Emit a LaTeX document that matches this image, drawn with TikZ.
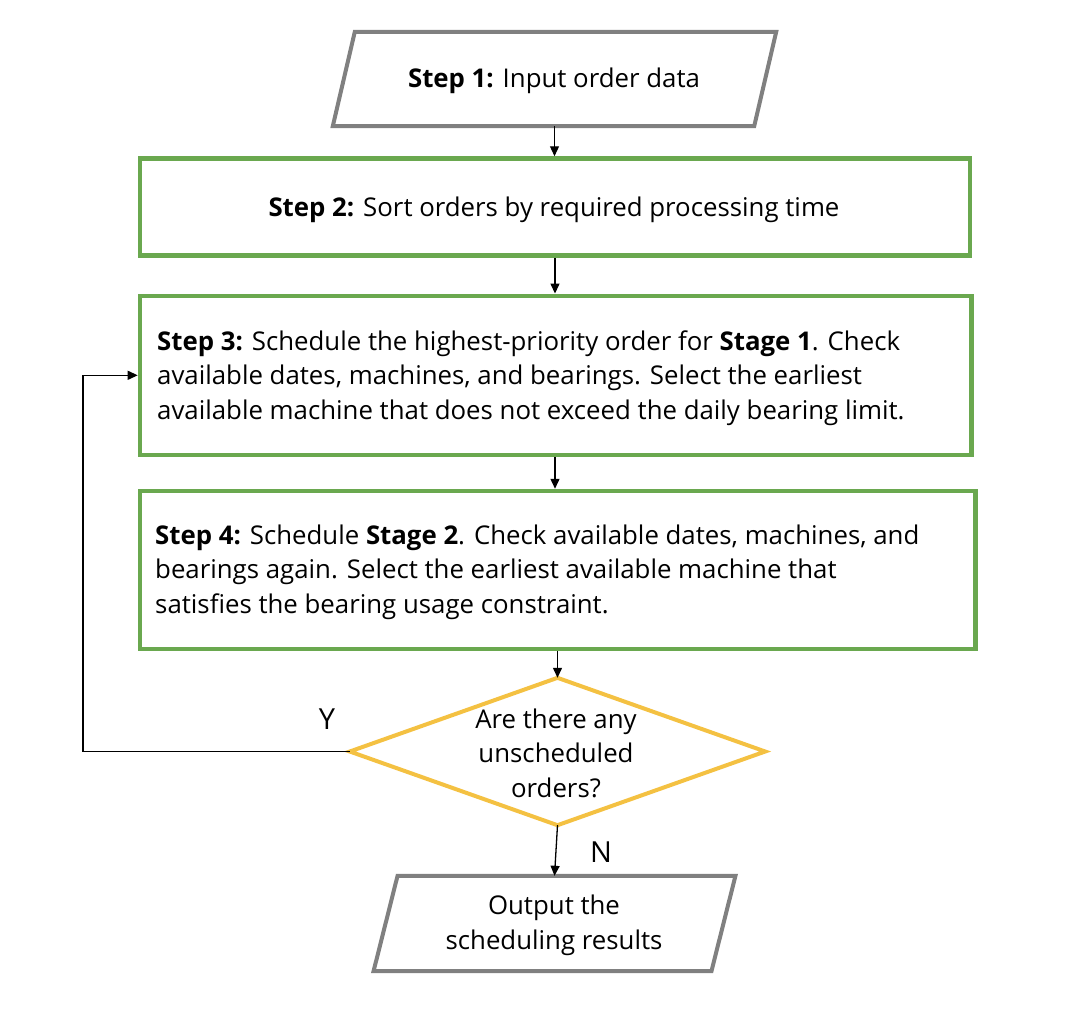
\documentclass[tikz,border=0pt]{standalone}
\usepackage{fontspec}
\setmainfont{Open Sans}
\usetikzlibrary{arrows.meta,calc}
\definecolor{boxgreen}{HTML}{6AA84F}
\definecolor{dgold}{HTML}{F4C142}
\definecolor{pgray}{HTML}{808080}
\begin{document}
\begin{tikzpicture}[x=1pt,y=-1pt,
  txt/.style={font=\fontsize{25.8}{34.5}\selectfont, text=black, inner sep=0pt},
  lbl/.style={font=\fontsize{29}{34}\selectfont, text=black},
  greenbox/.style={draw=boxgreen, line width=4.5pt, rectangle, inner sep=0pt},
  ghost/.style={rectangle, inner sep=0pt},
  para/.style={draw=pgray, line width=4pt, line join=miter},
  dia/.style={draw=dgold, line width=4pt, line join=miter},
  arr/.style={draw=black, line width=1.3pt, -{Triangle[length=10pt,width=9pt]}}]
\useasboundingbox (0,0) rectangle (1084,1018);

% Step 1 (parallelogram)
\node[ghost, minimum width=421pt, minimum height=94pt] (s1) at (554.5,79) {};
\draw[para] ([xshift=11pt]s1.north west) -- ([xshift=11pt]s1.north east) -- ([xshift=-11pt]s1.south east) -- ([xshift=-11pt]s1.south west) -- cycle;
\node[txt] (t1) at (554,81) {\textbf{Step 1:} Input order data};

% Step 2
\node[greenbox, minimum width=830pt, minimum height=97pt] (b1) at (555,207) {};
\node[txt] (tb1) at (554,209.5) {\textbf{Step 2:} Sort orders by required processing time};

% Step 3
\node[greenbox, minimum width=831.5pt, minimum height=159pt] (b2) at (555.7,375.3) {};
\node[txt, anchor=west, align=left] (t2) at (157,378) {\textbf{Step 3:} Schedule the highest-priority order for \textbf{Stage 1}. Check\\available dates, machines, and bearings. Select the earliest\\available machine that does not exceed the daily bearing limit.};

% Step 4
\node[greenbox, minimum width=835.5pt, minimum height=158pt] (b3) at (557.7,570) {};
\node[txt, anchor=west, align=left] (t3) at (155,572) {\textbf{Step 4:} Schedule \textbf{Stage 2}. Check available dates, machines, and\\bearings again. Select the earliest available machine that\\satisfies the bearing usage constraint.};

% Decision
\node[ghost, minimum width=415pt, minimum height=147pt] (q) at (557.5,751.5) {};
\draw[dia] (q.north) -- (q.east) -- (q.south) -- (q.west) -- cycle;
\node[txt, align=center] (tq) at (556,753) {Are there any\\unscheduled\\orders?};

% Output (parallelogram)
\node[ghost, minimum width=337.5pt, minimum height=95pt] (out) at (554.5,923.5) {};
\draw[para] ([xshift=12pt]out.north west) -- ([xshift=12pt]out.north east) -- ([xshift=-12pt]out.south east) -- ([xshift=-12pt]out.south west) -- cycle;
\node[txt, align=center] (tout) at (554,925.5) {Output the\\scheduling results};

% Connectors
\draw[arr] (s1.south) -- (s1.south |- b1.north);
\draw[arr] (b1.south) -- (b1.south |- b2.north);
\draw[arr] (b1.south |- b2.south) -- (b1.south |- b3.north);
\draw[arr] (q.north |- b3.south) -- (q.north);
\draw[arr] (q.south) -- (out.north);
\coordinate (lp) at (83,751.5);
\draw[arr] (q.west) -- (lp) |- (b2.west);

% Labels
\node[lbl] (ly) at (327,719) {Y};
\node[lbl] (ln) at (601,852) {N};
\end{tikzpicture}
\end{document}
